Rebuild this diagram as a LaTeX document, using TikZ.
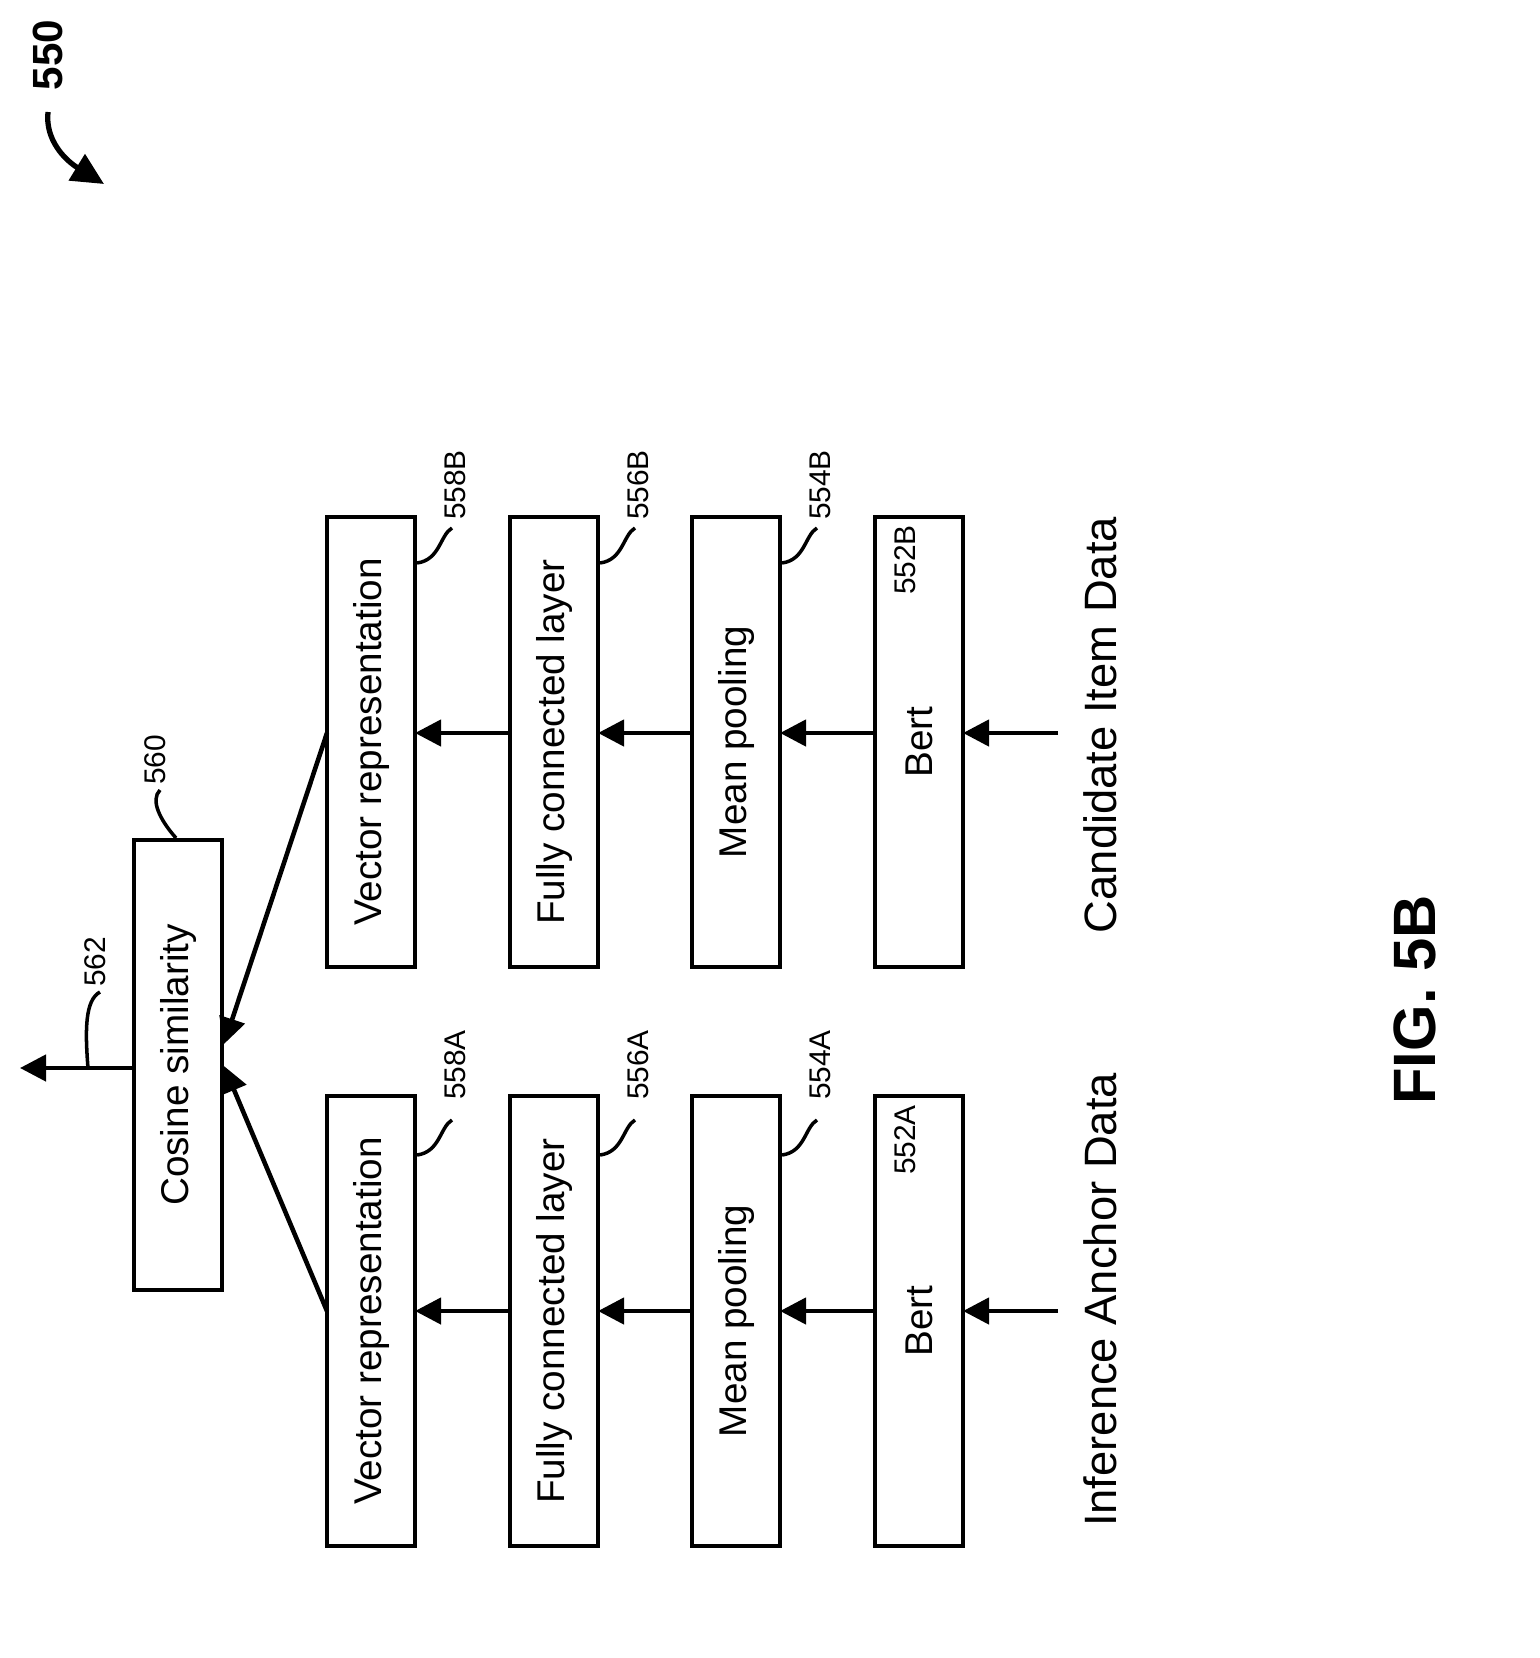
\documentclass[tikz,border=0pt]{standalone}
\usepackage{fontspec}
\setmainfont{Liberation Sans}
\usetikzlibrary{arrows.meta}
\begin{document}
\begin{tikzpicture}[x=0.01cm,y=-0.01cm,
  box/.style={draw,line width=1.3pt,minimum width=4.5cm,minimum height=0.88cm,rotate=90,inner sep=0,outer sep=0,font=\fontsize{11pt}{13pt}\selectfont},
  arr/.style={line width=1.3pt,-{Triangle[length=0.26cm,width=0.26cm]}},
  lbl/.style={rotate=90,font=\fontsize{8.5pt}{10pt}\selectfont,inner sep=1pt},
  lead/.style={line width=1pt}]
\useasboundingbox (0,0) rectangle (1540,1658);
\node[box] (vb) at (371,742) {Vector representation};
\node[box] (fb) at (554,742) {Fully connected layer};
\node[box] (mb) at (736,742) {Mean pooling};
\node[box] (bb) at (919,742) {Bert};
\node[box] (va) at (371,1321) {Vector representation};
\node[box] (fa) at (554,1321) {Fully connected layer};
\node[box] (ma) at (736,1321) {Mean pooling};
\node[box] (ba) at (919,1321) {Bert};
\node[box] (cs) at (178,1065) {Cosine similarity};
\node[rotate=90,font=\fontsize{12.9pt}{14pt}\selectfont] (cid) at (1100,725) {Candidate Item Data};
\node[rotate=90,font=\fontsize{12.9pt}{14pt}\selectfont] (iad) at (1100,1300) {Inference Anchor Data};
\coordinate (inb) at (1058,733);
\coordinate (ina) at (1058,1311);
\draw[arr] (inb) -- (bb.south |- inb);
\draw[arr] (bb.north |- inb) -- (mb.south |- inb);
\draw[arr] (mb.north |- inb) -- (fb.south |- inb);
\draw[arr] (fb.north |- inb) -- (vb.south |- inb);
\draw[arr] (ina) -- (ba.south |- ina);
\draw[arr] (ba.north |- ina) -- (ma.south |- ina);
\draw[arr] (ma.north |- ina) -- (fa.south |- ina);
\draw[arr] (fa.north |- ina) -- (va.south |- ina);
\coordinate (cb) at (224,1044);
\coordinate (ca) at (224,1066);
\draw[arr] (vb.north |- inb) -- (cb);
\draw[arr] (va.north |- ina) -- (ca);
\coordinate (out) at (20,1068);
\draw[arr] (cs.north |- out) -- (out);
\node[lbl] (l552b) at (905,560) {552B};
\node[lbl] (l552a) at (905,1140) {552A};
\foreach \x/\t in {455/558,638/556,820/554}{
  \node[lbl] at (\x,485) {\t B};
  \node[lbl] at (\x,1065) {\t A};
}
\foreach \dx in {0,183,365}{
  \draw[lead] (417+\dx,563) .. controls (440+\dx,560) and (440+\dx,535) .. (452+\dx,528);
  \draw[lead] (417+\dx,1155) .. controls (440+\dx,1152) and (440+\dx,1127) .. (452+\dx,1120);
}
\node[lbl] (l560) at (155,760) {560};
\draw[lead] (176,838) .. controls (160,820) and (150,800) .. (160,790);
\node[lbl] (l562) at (95,962) {562};
\draw[lead] (88,1068) .. controls (85,1030) and (85,1000) .. (100,992);
\node[rotate=90,font=\bfseries\fontsize{17pt}{20pt}\selectfont] (fig) at (1415,1000) {FIG. 5B};
\node[rotate=90,font=\bfseries\fontsize{12pt}{14pt}\selectfont] (n550) at (48,55) {550};
\draw[line width=1.5pt,-{Triangle[length=0.32cm,width=0.3cm]}] (48,112) .. controls (45,140) and (65,160) .. (104,184);
\end{tikzpicture}
\end{document}
